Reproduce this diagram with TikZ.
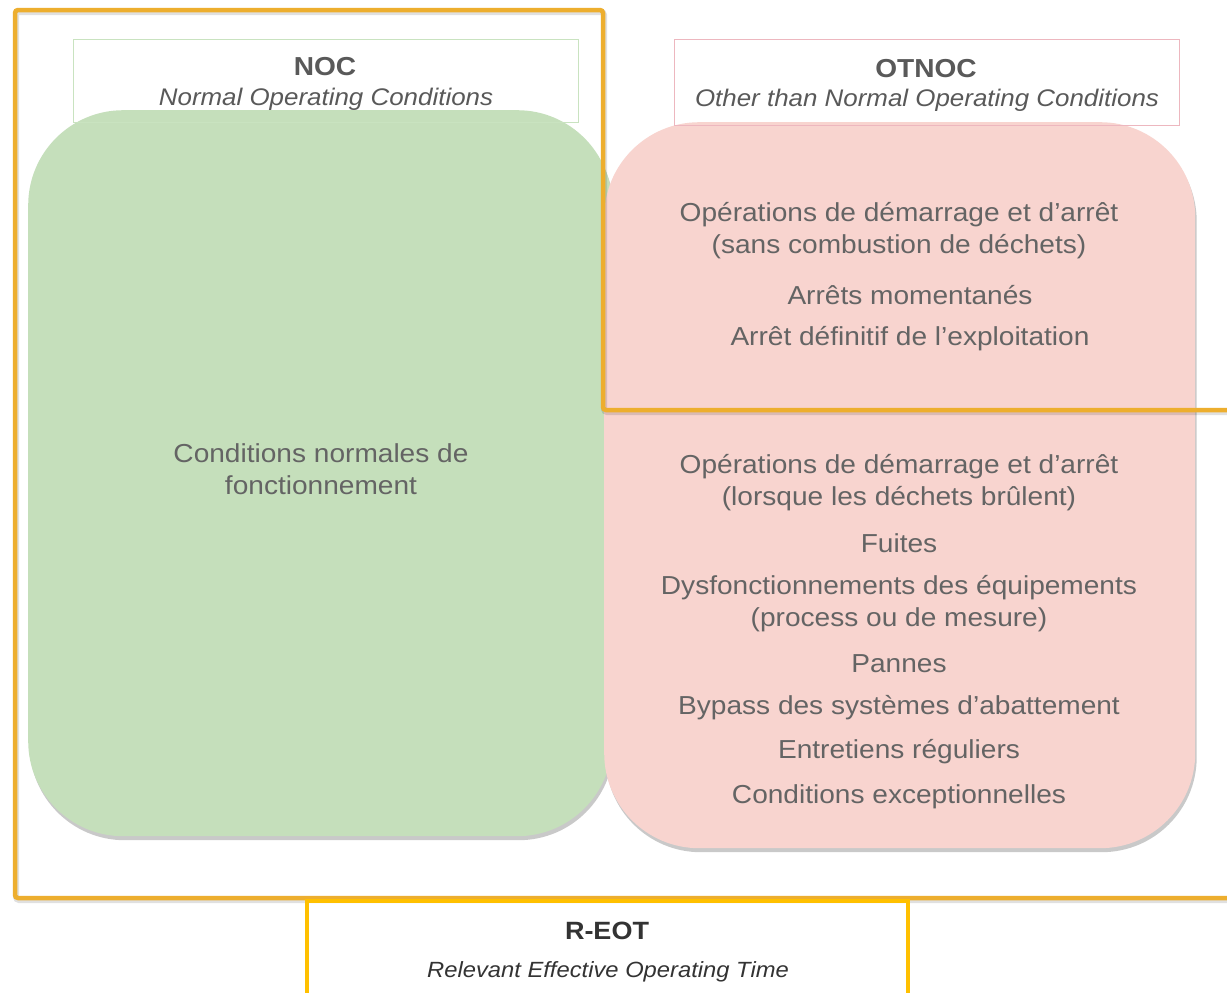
\documentclass[tikz,border=0pt]{standalone}
\usepackage{fontspec}
\setmainfont[FakeStretch=1.08]{Liberation Sans}
\usetikzlibrary{shadows}
\definecolor{frameor}{HTML}{EDAE2E}
\definecolor{reotyel}{HTML}{FFC000}
\definecolor{nocfill}{HTML}{C5DFBB}
\definecolor{otfill}{HTML}{F8D4CF}
\definecolor{nocline}{HTML}{C9E3C0}
\definecolor{otline}{HTML}{EDB7BF}
\definecolor{txtgray}{HTML}{646464}
\definecolor{hdgray}{HTML}{595959}
\tikzset{
  bigbox/.style={rectangle, rounded corners=95pt, inner sep=0pt, anchor=north west,
    drop shadow={shadow xshift=1.5pt, shadow yshift=-4pt, opacity=0.35, fill=black!60}},
  hdbox/.style={rectangle, draw, line width=1pt, inner sep=0pt, anchor=north west},
  bodytxt/.style={text=txtgray, font=\fontsize{26}{32}\selectfont, align=center, inner sep=0pt},
  hdtxt/.style={text=hdgray, font=\fontsize{26}{32}\selectfont, align=center, inner sep=0pt},
  frame/.style={draw=frameor, line width=4.5pt, rounded corners=3pt},
  frameshadow/.style={draw=black, opacity=0.12, line width=6pt, rounded corners=3pt},
}
\begin{document}
\begin{tikzpicture}[x=1pt,y=-1pt]
\useasboundingbox (0,0) rectangle (1227,993);
\fill[white] (0,0) rectangle (1227,993);
% big rounded boxes
\node[bigbox, fill=nocfill, minimum width=584pt, minimum height=726pt] (noc) at (28,110) {};
\node[bigbox, fill=otfill, minimum width=591pt, minimum height=726pt] (otnoc) at (604,122) {};
% header boxes
\node[hdbox, draw=nocline, minimum width=505pt, minimum height=83pt] (nochd) at (73,39) {};
\node[hdbox, draw=otline, minimum width=505pt, minimum height=86pt] (othd) at (674,39) {};
\node[hdtxt, font=\fontsize{26}{32}\selectfont\bfseries] (noct) at (325,67) {NOC};
\node[hdtxt, font=\fontsize{24}{30}\selectfont\itshape] (nocs) at (326,99) {Normal Operating Conditions};
\node[hdtxt, font=\fontsize{26}{32}\selectfont\bfseries] (ott) at (926,69) {OTNOC};
\node[hdtxt, font=\fontsize{24}{30}\selectfont\itshape] (ots) at (927,100) {Other than Normal Operating Conditions};
% green text
\node[bodytxt] (g1) at (321,469) {Conditions normales de\\fonctionnement};
% pink upper text
\node[bodytxt] (p1) at (899,231) {Opérations de démarrage et d’arrêt\\(sans combustion de déchets)};
\node[bodytxt] (p2) at (910,295) {Arrêts momentanés};
\node[bodytxt] (p3) at (910,339) {Arrêt définitif de l’exploitation};
% pink lower text
\node[bodytxt] (p4) at (899,483) {Opérations de démarrage et d’arrêt\\(lorsque les déchets brûlent)};
\node[bodytxt] (p5) at (899,543) {Fuites};
\node[bodytxt] (p6) at (899,604) {Dysfonctionnements des équipements\\(process ou de mesure)};
\node[bodytxt] (p7) at (899,664) {Pannes};
\node[bodytxt] (p8) at (899,708) {Bypass des systèmes d’abattement};
\node[bodytxt] (p9) at (899,752) {Entretiens réguliers};
\node[bodytxt] (p10) at (899,797) {Conditions exceptionnelles};
% orange frame with soft shadow
\coordinate (fa) at (1235,410);
\coordinate (fb) at (1235,898);
\draw[frameshadow] ([shift={(1,2)}]fa) -- (604,412) -- (604,12) -- (16,12) -- (16,900) -- ([shift={(1,2)}]fb);
\draw[frame] (fa) -- (603,410) -- (603,10) -- (15,10) -- (15,898) -- (fb);
% R-EOT box
\coordinate (rl) at (307,1000);
\coordinate (rr) at (908,1000);
\draw[draw=reotyel, line width=3.5pt] (rl) -- (307,901) -- (908,901) -- (rr);
\node[hdtxt, font=\fontsize{25}{32}\selectfont\bfseries, text=black!80] (reot) at (607,931) {R-EOT};
\node[hdtxt, font=\fontsize{22}{30}\selectfont\itshape, text=black!80] (reots) at (608,972) {Relevant Effective Operating Time};
\end{tikzpicture}
\end{document}
